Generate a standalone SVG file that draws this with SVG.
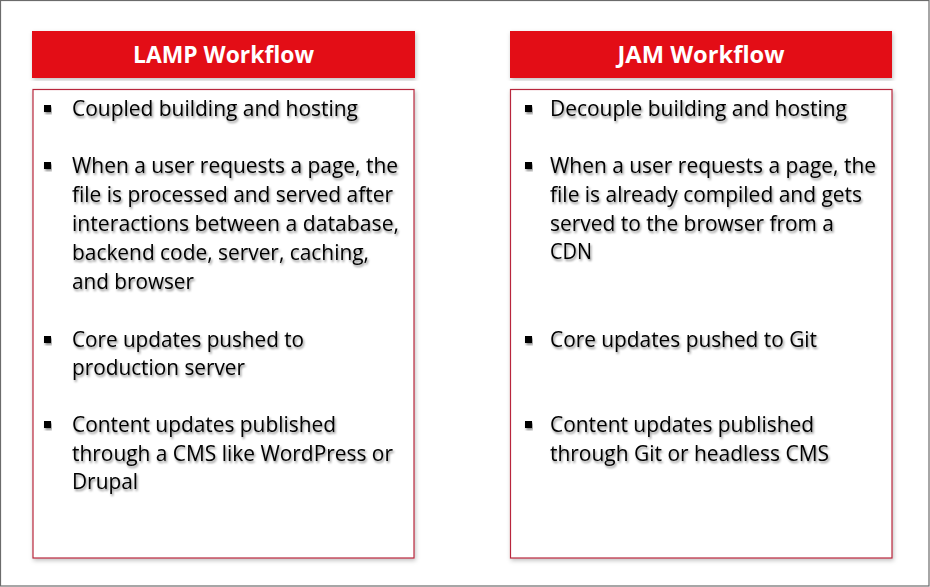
<svg xmlns="http://www.w3.org/2000/svg" width="930" height="587" viewBox="0 0 930 587">
<defs>
<filter id="ts" x="-5%" y="-30%" width="110%" height="170%">
<feDropShadow dx="1.2" dy="2" stdDeviation="1.3" flood-color="#000" flood-opacity="0.45"/>
</filter>
<filter id="bs" x="-5%" y="-5%" width="110%" height="110%">
<feDropShadow dx="1" dy="2" stdDeviation="2" flood-color="#000" flood-opacity="0.25"/>
</filter>
<style>
.hdr{fill:#E30F17;filter:url(#bs)}
.body{fill:#fff;stroke:#B8283C;stroke-width:1.2;filter:url(#bs)}
.ht{font-family:"Open Sans","Liberation Sans",sans-serif;font-weight:bold;font-size:23px;fill:#fff;text-anchor:middle}
.t{font-family:"Open Sans","Liberation Sans",sans-serif;font-size:22px;fill:#000;filter:url(#ts)}
.b{fill:#000;filter:url(#ts)}
</style>
</defs>
<rect x="0.5" y="0.5" width="928.5" height="585.5" fill="#fff" stroke="#6b6b6b" stroke-width="1.2"/>
<g id="lamp">
<rect class="hdr" x="32" y="31" width="383" height="47"/>
<text class="ht" x="223.5" y="63" textLength="181" lengthAdjust="spacingAndGlyphs">LAMP Workflow</text>
<rect class="body" x="33" y="89.5" width="381" height="468.5"/>
<rect class="b" x="44" y="105" width="7" height="7"/>
<text class="t" x="72" y="116" textLength="286" lengthAdjust="spacingAndGlyphs">Coupled building and hosting</text>
<rect class="b" x="44" y="162" width="7" height="7"/>
<text class="t" x="72" y="173" textLength="326" lengthAdjust="spacingAndGlyphs">When a user requests a page, the</text>
<text class="t" x="72" y="202" textLength="321" lengthAdjust="spacingAndGlyphs">file is processed and served after</text>
<text class="t" x="72" y="231" textLength="327" lengthAdjust="spacingAndGlyphs">interactions between a database,</text>
<text class="t" x="72" y="260" textLength="297" lengthAdjust="spacingAndGlyphs">backend code, server, caching,</text>
<text class="t" x="72" y="289" textLength="122" lengthAdjust="spacingAndGlyphs">and browser</text>
<rect class="b" x="44" y="336" width="7" height="7"/>
<text class="t" x="72" y="347" textLength="232" lengthAdjust="spacingAndGlyphs">Core updates pushed to</text>
<text class="t" x="72" y="375" textLength="173" lengthAdjust="spacingAndGlyphs">production server</text>
<rect class="b" x="44" y="421" width="7" height="7"/>
<text class="t" x="72" y="432" textLength="264" lengthAdjust="spacingAndGlyphs">Content updates published</text>
<text class="t" x="72" y="461" textLength="321" lengthAdjust="spacingAndGlyphs">through a CMS like WordPress or</text>
<text class="t" x="72" y="489" textLength="66" lengthAdjust="spacingAndGlyphs">Drupal</text>
</g>
<g id="jam">
<rect class="hdr" x="510" y="31" width="382" height="47"/>
<text class="ht" x="701" y="63" textLength="167" lengthAdjust="spacingAndGlyphs">JAM Workflow</text>
<rect class="body" x="510.5" y="89.5" width="381.5" height="468.5"/>
<rect class="b" x="525" y="105" width="7" height="7"/>
<text class="t" x="550" y="116" textLength="297" lengthAdjust="spacingAndGlyphs">Decouple building and hosting</text>
<rect class="b" x="525" y="162" width="7" height="7"/>
<text class="t" x="550" y="173" textLength="326" lengthAdjust="spacingAndGlyphs">When a user requests a page, the</text>
<text class="t" x="550" y="202" textLength="312" lengthAdjust="spacingAndGlyphs">file is already compiled and gets</text>
<text class="t" x="550" y="231" textLength="284" lengthAdjust="spacingAndGlyphs">served to the browser from a</text>
<text class="t" x="550" y="259" textLength="42" lengthAdjust="spacingAndGlyphs">CDN</text>
<rect class="b" x="525" y="336" width="7" height="7"/>
<text class="t" x="550" y="347" textLength="267" lengthAdjust="spacingAndGlyphs">Core updates pushed to Git</text>
<rect class="b" x="525" y="421" width="7" height="7"/>
<text class="t" x="550" y="432" textLength="264" lengthAdjust="spacingAndGlyphs">Content updates published</text>
<text class="t" x="550" y="461" textLength="279" lengthAdjust="spacingAndGlyphs">through Git or headless CMS</text>
</g>
</svg>
